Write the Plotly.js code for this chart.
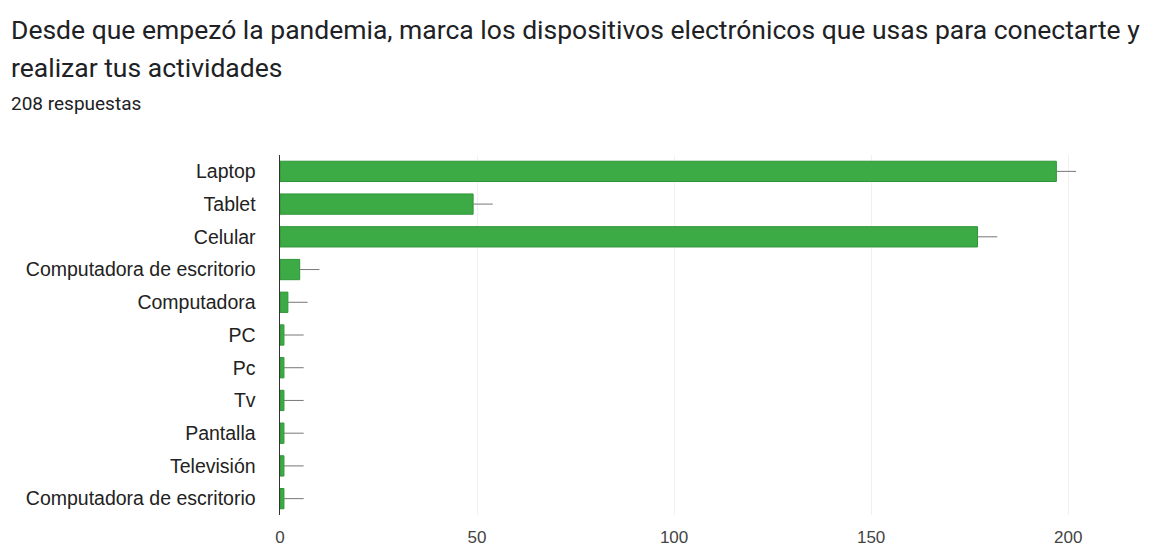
<!DOCTYPE html>
<html>
<head>
<meta charset="utf-8">
<script src="https://cdn.plot.ly/plotly-3.0.1.min.js"></script>
<style>html,body{margin:0;padding:0;background:#fff;}#chart{width:1162px;height:548px;}</style>
</head>
<body>
<div id="chart"></div>
<script>
const titleLine1 = "Desde que empezó la pandemia, marca los dispositivos electrónicos que usas para conectarte y";
const titleLine2 = "realizar tus actividades";
const subtitle = "208 respuestas";
const categories = ["Laptop", "Tablet", "Celular", "Computadora de escritorio", "Computadora", "PC", "Pc", "Tv", "Pantalla", "Televisión", "Computadora de escritorio"];
const counts = [197, 49, 177, 5, 2, 1, 1, 1, 1, 1, 1];
const xTicks = [0, 50, 100, 150, 200];

const positions = categories.map((_, i) => i);
const leader = categories.map(() => 5);

const trace = {
  type: 'bar',
  orientation: 'h',
  x: counts,
  y: positions,
  marker: {color: '#3dab45', line: {color: '#2f9437', width: 1}},
  error_x: {type: 'data', symmetric: false, array: leader, arrayminus: categories.map(() => 0), width: 0, color: '#777', thickness: 1},
  hoverinfo: 'x+text',
  text: categories,
  textposition: 'none'
};

const layout = {
  width: 1162, height: 548,
  margin: {l: 280, r: 15, t: 155, b: 33},
  paper_bgcolor: '#fff', plot_bgcolor: '#fff',
  bargap: 0.38,
  showlegend: false,
  font: {family: 'Liberation Sans, Arial, sans-serif', color: '#222'},
  title: {
    text: titleLine1,
    x: 11/1162, xanchor: 'left', xref: 'container',
    y: 1 - 30/548, yanchor: 'middle', yref: 'container',
    font: {family: 'Roboto, sans-serif', size: 26.5, color: '#202124'}
  },
  annotations: [
    {text: titleLine2, xref: 'paper', yref: 'paper', x: -270/867, y: 1 + (155-68)/360, xanchor: 'left', yanchor: 'middle', showarrow: false, borderpad: 0,
     font: {family: 'Roboto, sans-serif', size: 26.5, color: '#202124'}},
    {text: subtitle, xref: 'paper', yref: 'paper', x: -270/867, y: 1 + (155-103)/360, xanchor: 'left', yanchor: 'middle', showarrow: false, borderpad: 0,
     font: {family: 'Roboto, sans-serif', size: 19, color: '#202124'}}
  ],
  xaxis: {
    range: [0, 220],
    tickvals: xTicks,
    ticktext: xTicks.map(String),
    showgrid: true, gridcolor: '#f1f1f1', gridwidth: 1,
    zeroline: false, showline: false,
    ticks: 'outside', ticklen: 7, tickcolor: 'rgba(0,0,0,0)',
    tickfont: {size: 17, color: '#444'},
    fixedrange: true
  },
  yaxis: {
    range: [10.5, -0.5],
    tickvals: positions,
    ticktext: categories,
    showgrid: false, zeroline: false,
    showline: true, linecolor: '#333', linewidth: 1.5,
    ticks: 'outside', ticklen: 19, tickcolor: 'rgba(0,0,0,0)',
    tickfont: {size: 19.5, color: '#222'},
    fixedrange: true
  }
};

Plotly.newPlot('chart', [trace], layout, {displayModeBar: false, staticPlot: true});
</script>
</body>
</html>
